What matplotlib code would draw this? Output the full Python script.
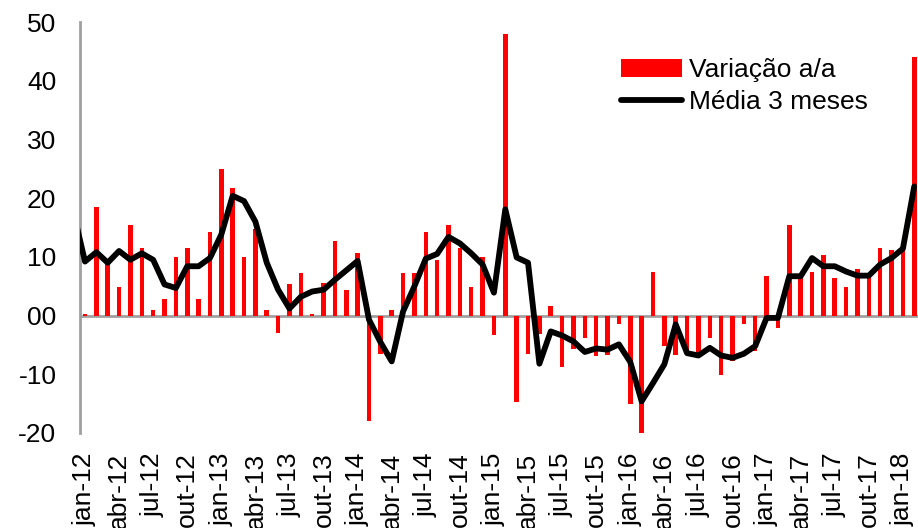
import numpy as np
import matplotlib.pyplot as plt
import matplotlib.patches as mpatches
from matplotlib.legend_handler import HandlerPatch

plt.rcParams['font.family'] = ['Liberation Sans', 'DejaVu Sans']

meses = ['jan', 'fev', 'mar', 'abr', 'mai', 'jun', 'jul', 'ago', 'set', 'out', 'nov', 'dez']
anos = ['12', '13', '14', '15', '16', '17', '18']
categorias = [m + '-' + a for a in anos for m in meses][:74]   # jan-12 .. fev-18

# variacao a/a (%)
variacao = [0.3, 18.5, 9.0, 4.8, 15.5, 11.5, 0.9, 2.8, 10.0, 11.5, 2.8, 14.3,
            24.9, 21.8, 10.0, 14.7, 0.9, -2.9, 5.3, 7.2, 0.3, 5.6, 12.7, 4.4,
            10.7, -17.9, -6.5, 0.9, 7.2, 7.2, 14.3, 9.5, 15.5, 11.5, 4.8, 10.0,
            -3.3, 48.0, -14.7, -6.5, -3.2, 1.7, -8.8, -5.7, -3.8, -6.9, -6.8, -1.4,
            -15.0, -27.2, 7.5, -5.2, -6.8, -6.5, -6.8, -3.8, -10.1, -7.7, -1.4, -6.1,
            6.8, -2.2, 15.4, 6.4, 7.5, 10.3, 6.4, 4.9, 8.0, 6.7, 11.5, 11.1,
            11.1, 44.1]

# media 3 meses, starts at dez-11 (cut by the axis)
media = [17.5,
         9.2, 10.8, 9.0, 11.0, 9.5, 10.6, 9.5, 5.3, 4.7, 8.4, 8.4, 9.8,
         13.8, 20.4, 19.5, 16.0, 9.0, 4.4, 1.2, 3.2, 4.1, 4.4, 6.1, 7.7,
         9.3, -0.7, -4.5, -7.8, 0.7, 5.0, 9.7, 10.5, 13.4, 12.3, 10.6, 8.7,
         3.9, 18.1, 9.9, 9.0, -8.2, -2.7, -3.4, -4.4, -6.2, -5.6, -5.8, -4.9,
         -7.9, -14.6, -11.5, -8.3, -1.5, -6.4, -6.8, -5.5, -6.8, -7.2, -6.5, -5.2,
         -0.4, -0.4, 6.7, 6.7, 9.8, 8.4, 8.4, 7.5, 6.8, 6.8, 8.7, 9.8,
         11.4, 22.0]

yticks = [-20, -10, 0, 10, 20, 30, 40, 50]
ylabels = ['-20', '-10', '00', '10', '20', '30', '40', '50']


def barra(legend, orig_handle, xdescent, ydescent, width, height, fontsize):
    # thinner legend key, like the Excel one
    return mpatches.Rectangle((-xdescent, -ydescent + 0.15*height), width, 0.7*height)


fig = plt.figure(figsize=(9.18, 5.28), dpi=100)
ax = fig.add_axes([80/918, 95/528, 838/918, 411/528])

x = np.arange(len(variacao))
xl = np.arange(-1, len(media) - 1)

ax.axhline(0, color='#a0a0a0', lw=2, zorder=1)
bars = ax.bar(x, variacao, width=0.4, color='#ff0000', label='Variação a/a', zorder=2)
linha, = ax.plot(xl, media, color='black', lw=4.2, solid_joinstyle='round',
                 solid_capstyle='round', label='Média 3 meses', zorder=3)

ax.set_xlim(-0.44, 73.33)
ax.set_ylim(-20, 50)
ax.set_yticks(yticks)
ax.set_yticklabels(ylabels)
ax.set_xticks(x[::3])
ax.set_xticklabels(categorias[::3], rotation=90, va='top', ha='center')

for s in ['top', 'right', 'bottom']:
    ax.spines[s].set_visible(False)
ax.spines['left'].set_color('#a0a0a0')
ax.spines['left'].set_linewidth(2)
ax.tick_params(axis='y', length=0, pad=17, labelsize=19)
ax.tick_params(axis='x', length=0, pad=14, labelsize=19)

ax.legend([bars, linha], ['Variação a/a', 'Média 3 meses'],
          loc='upper left', bbox_to_anchor=(621/918, 1 - 58/528),
          bbox_transform=fig.transFigure, frameon=False, fontsize=19,
          handlelength=2.3, handletextpad=0.27, labelspacing=0.32,
          borderpad=0, borderaxespad=0,
          handler_map={type(bars.patches[0]): HandlerPatch(patch_func=barra)})

plt.savefig('out.png')
